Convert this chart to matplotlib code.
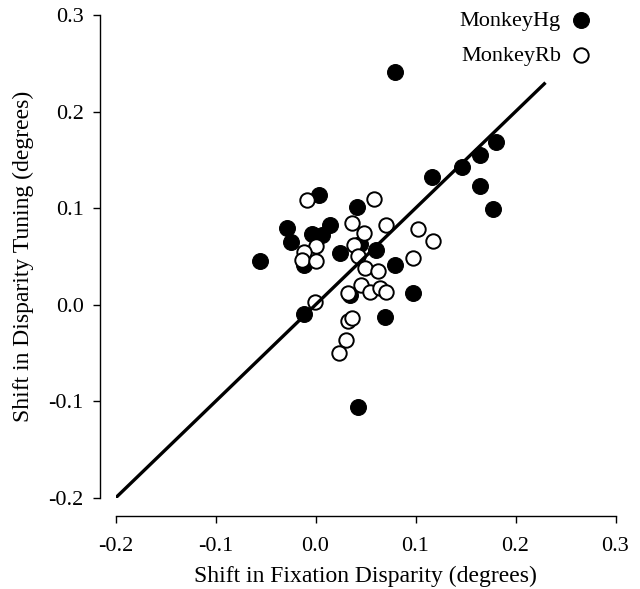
import matplotlib
matplotlib.use("Agg")
import matplotlib.pyplot as plt

# --- data ---
hg_x = [0.079, 0.180, 0.164, 0.146, 0.116, 0.164, 0.177, 0.003, 0.041, 0.014,
        -0.029, -0.004, 0.006, -0.025, -0.056, -0.012, 0.024, 0.060, 0.079, 0.097,
        0.069, -0.012, 0.042, 0.034, 0.044]
hg_y = [0.241, 0.169, 0.155, 0.143, 0.132, 0.123, 0.099, 0.114, 0.101, 0.083,
        0.080, 0.073, 0.072, 0.065, 0.045, 0.041, 0.054, 0.057, 0.041, 0.012,
        -0.013, -0.010, -0.106, 0.010, 0.063]

rb_x = [-0.009, 0.058, 0.036, 0.070, 0.048, 0.102, 0.117, 0.038, 0.000, -0.012,
        -0.014, 0.000, 0.042, 0.049, 0.062, 0.097, 0.045, 0.032, 0.054, 0.064,
        0.070, -0.001, 0.032, 0.036, 0.030, 0.023]
rb_y = [0.108, 0.110, 0.085, 0.083, 0.074, 0.078, 0.066, 0.062, 0.061, 0.055,
        0.046, 0.045, 0.050, 0.038, 0.035, 0.048, 0.021, 0.012, 0.013, 0.017,
        0.013, 0.003, -0.017, -0.014, -0.036, -0.050]

line_x = [-0.2, 0.23]
line_y = [-0.2, 0.23]

xticks = [-0.2, -0.1, 0.0, 0.1, 0.2, 0.3]
yticks = [-0.2, -0.1, 0.0, 0.1, 0.2, 0.3]
tick_labels = ["-0.2", "-0.1", "0.0", "0.1", "0.2", "0.3"]

xlabel = "Shift in Fixation Disparity (degrees)"
ylabel = "Shift in Disparity Tuning (degrees)"
labels = ["MonkeyHg", "MonkeyRb"]

plt.rcParams['font.family'] = ['Liberation Serif', 'DejaVu Serif']

W, H = 640, 589
fig = plt.figure(figsize=(W / 100, H / 100), dpi=100)
ax = fig.add_axes([115.5 / W, 1 - 498 / H, 500 / W, 483 / H])

h1 = ax.scatter(hg_x, hg_y, s=130, c='black', edgecolors='black', linewidths=0.8, zorder=2)
h2 = ax.scatter(rb_x, rb_y, s=108, facecolors='white', edgecolors='black', linewidths=1.4, zorder=3)
ax.plot(line_x, line_y, color='black', lw=2.4, zorder=4, solid_capstyle='butt')

ax.set_xlim(-0.2, 0.3)
ax.set_ylim(-0.2, 0.3)
ax.set_xticks(xticks)
ax.set_xticklabels(tick_labels)
ax.set_yticks(yticks)
ax.set_yticklabels(tick_labels)

for side in ['top', 'right']:
    ax.spines[side].set_visible(False)
ax.spines['left'].set_position(('outward', 11))
ax.spines['bottom'].set_position(('outward', 13))
for side in ['left', 'bottom']:
    ax.spines[side].set_linewidth(1.0)

ax.tick_params(axis='both', direction='out', length=5, width=1.0, labelsize=16, pad=7)
ax.tick_params(axis='x', pad=10)

ax.set_xlabel(xlabel, fontsize=17, labelpad=7)
ax.set_ylabel(ylabel, fontsize=17, labelpad=10)

ax.legend([h1, h2], labels, loc='upper right', bbox_to_anchor=(592 / W, 1 - 10 / H),
          bbox_transform=fig.transFigure, frameon=False, markerfirst=False,
          fontsize=16, handlelength=1.0, handletextpad=0.4, labelspacing=0.65,
          borderpad=0, borderaxespad=0, scatterpoints=1)

fig.savefig("out.png", dpi=100)
